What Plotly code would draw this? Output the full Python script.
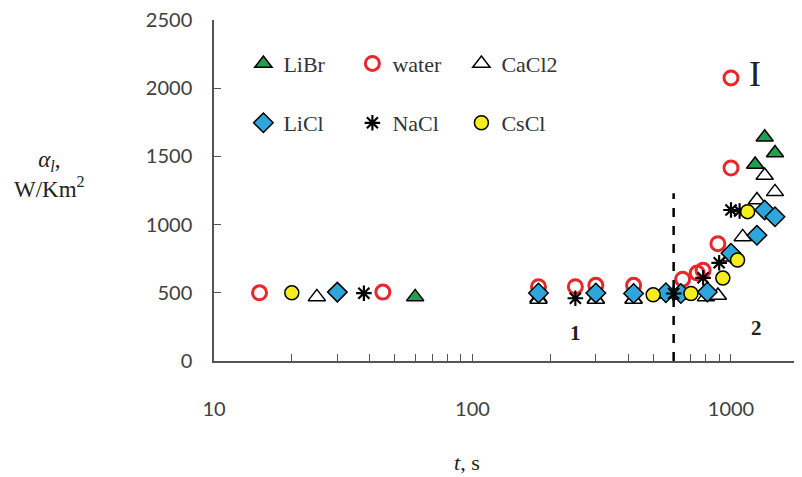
import plotly.graph_objects as go

# ---- data ----
libr_t = [60, 180, 300, 420, 1240, 1350, 1480]
libr_a = [470, 460, 455, 455, 1440, 1640, 1525]

water_t = [15, 45, 180, 250, 300, 420, 650, 740, 780, 890, 1000, 1000]
water_a = [500, 505, 545, 545, 555, 555, 600, 645, 665, 860, 1415, 2075]

cacl2_t = [25, 180, 300, 420, 560, 640, 800, 890, 1000, 1110, 1260, 1350, 1480]
cacl2_a = [470, 450, 450, 450, 490, 480, 470, 480, 760, 910, 1180, 1360, 1240]

licl_t = [30, 180, 300, 420, 560, 640, 810, 1000, 1260, 1350, 1480]
licl_a = [505, 498, 498, 495, 500, 495, 506, 790, 922, 1107, 1058]

nacl_t = [38, 250, 600, 780, 900, 1000, 1080]
nacl_a = [497, 460, 495, 610, 720, 1107, 1100]

cscl_t = [20, 500, 700, 930, 1060, 1160]
cscl_a = [500, 485, 495, 608, 740, 1095]

x_tickvals = [10, 20, 30, 40, 50, 60, 70, 80, 90,
              100, 200, 300, 400, 500, 600, 700, 800, 900,
              1000, 2000]
x_ticktext = ["10", "", "", "", "", "", "", "", "",
              "100", "", "", "", "", "", "", "", "",
              "1000", ""]
y_tickvals = [0, 500, 1000, 1500, 2000, 2500]

boundary_t = 600
boundary_top = 1230

SERIF = "Liberation Serif"
SANS = "Lato"

fig = go.Figure()

def add(name, t, a, legend, rank, **marker):
    fig.add_trace(go.Scatter(
        x=t, y=a, mode="markers", name=name, legend=legend,
        legendrank=rank, marker=marker, cliponaxis=False))

add("LiBr", libr_t, libr_a, "legend", 1, symbol="triangle-up", size=15,
    color="#22a052", line=dict(color="black", width=1.5))
add("CaCl2", cacl2_t, cacl2_a, "legend", 3, symbol="triangle-up", size=15,
    color="white", line=dict(color="black", width=1.5))
add("water", water_t, water_a, "legend", 2, symbol="circle-open", size=14,
    color="#e8262b", line=dict(color="#e8262b", width=3))
add("LiCl", licl_t, licl_a, "legend2", 4, symbol="diamond", size=15,
    color="#2ea6dc", line=dict(color="black", width=1.5))
add("NaCl", nacl_t, nacl_a, "legend2", 5, symbol="asterisk-open", size=13,
    color="black", line=dict(color="black", width=2.2))
add("CsCl", cscl_t, cscl_a, "legend2", 6, symbol="circle", size=14,
    color="#f6ee1c", line=dict(color="black", width=1.5))

fig.add_shape(type="line", xref="x", yref="y",
              x0=boundary_t, x1=boundary_t, y0=0, y1=boundary_top,
              line=dict(color="black", width=2.5, dash="dash"))

legend_common = dict(orientation="h", xanchor="left", yanchor="middle",
                     bgcolor="rgba(0,0,0,0)", entrywidth=64,
                     entrywidthmode="pixels", itemwidth=30,
                     font=dict(family=SERIF, size=22, color="#333333"),
                     tracegroupgap=0)

# page body has an 8px margin: figure is sized/offset so that the plot
# area lands at x 214..802, y 20..361 in the window
fig.update_layout(
    width=794, height=469,
    margin=dict(l=206, r=0, t=12, b=116),
    plot_bgcolor="white", paper_bgcolor="white",
    showlegend=True,
    legend=dict(x=0.05, y=0.872, **legend_common),
    legend2=dict(x=0.05, y=0.698, **legend_common),
    xaxis=dict(type="log", range=[1, 3.2747],
               tickvals=x_tickvals, ticktext=x_ticktext,
               ticks="inside", ticklen=7, tickwidth=1, tickcolor="#555555",
               showline=True, linecolor="#555555", linewidth=1.5,
               showgrid=False, zeroline=False, ticklabelstandoff=29,
               ticklabeloverflow="allow",
               tickfont=dict(family=SANS, size=20, color="#404040")),
    yaxis=dict(range=[0, 2500], tickvals=y_tickvals,
               ticks="inside", ticklen=7, tickwidth=1, tickcolor="#555555",
               showline=True, linecolor="#555555", linewidth=1.5,
               showgrid=False, zeroline=False, ticklabelstandoff=16,
               ticklabeloverflow="allow",
               tickfont=dict(family=SANS, size=20, color="#404040")),
)

ann = [
    dict(text="<i>t</i>, s", x=0.43, y=-0.299, size=22, anchor="center"),
    dict(text="<i>α<sub>l</sub></i>,<br>W/Km<sup>2</sup>", x=-0.279, y=0.548,
         size=23, anchor="center"),
    dict(text="<b>1</b>", x=0.614, y=0.082, size=21, anchor="center"),
    dict(text="<b>2</b>", x=0.923, y=0.097, size=21, anchor="center"),
    dict(text="I", x=0.906, y=0.842, size=36, anchor="left"),
    dict(text="II", x=0.982, y=0.648, size=36, anchor="left"),
    dict(text="III", x=0.982, y=0.428, size=36, anchor="left"),
]
for a in ann:
    fig.add_annotation(text=a["text"], xref="paper", yref="paper",
                       x=a["x"], y=a["y"], showarrow=False,
                       xanchor=a["anchor"], yanchor="middle",
                       font=dict(family=SERIF, size=a["size"], color="#222222"))

fig.write_html("out.html")
